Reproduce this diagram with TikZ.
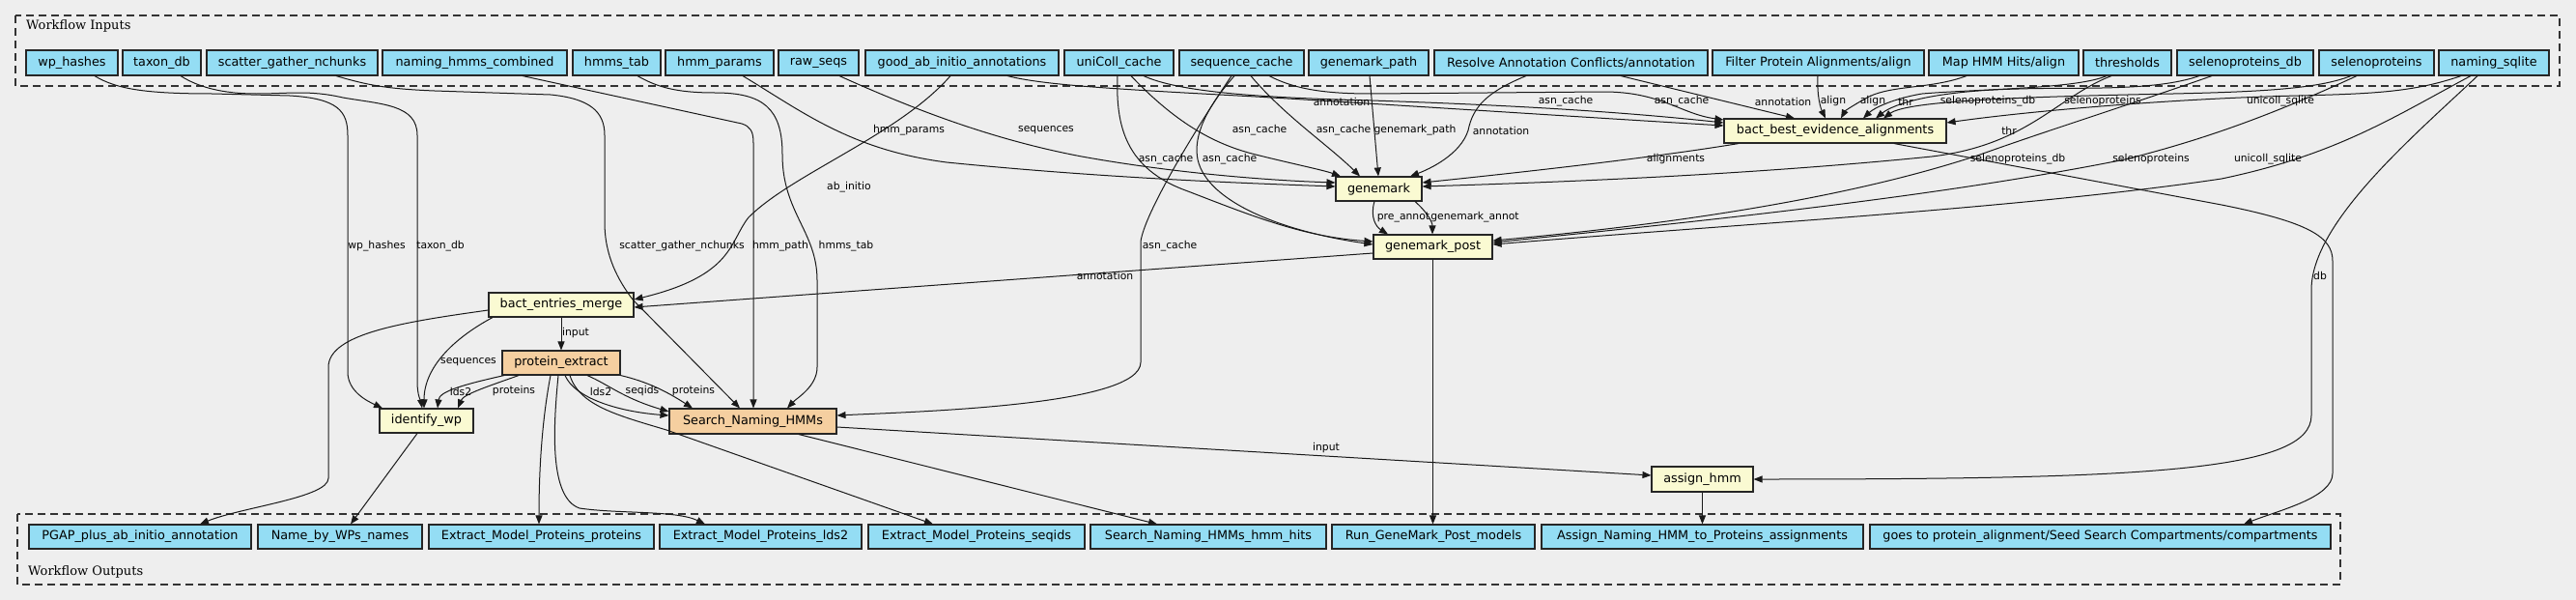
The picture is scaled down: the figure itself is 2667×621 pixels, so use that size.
\documentclass[tikz,border=0pt]{standalone}
\usepackage{fontspec}
\setmainfont{DejaVu Sans}
\newfontfamily\titlefont{DejaVu Serif}
\usetikzlibrary{arrows.meta,shadows}
\definecolor{bgc}{HTML}{EEEEEE}
\definecolor{inblue}{HTML}{94DDF4}
\definecolor{jobyellow}{HTML}{FAFAD2}
\definecolor{joborange}{HTML}{F5CFA0}
\begin{document}
\begin{tikzpicture}[x=1pt,y=-1pt,
  box/.style={draw=black!85, line width=1.1pt, inner sep=0pt, minimum height=25pt,
    font=\fontsize{12.8}{14}\selectfont,
    drop shadow={shadow xshift=0.8pt, shadow yshift=-1.2pt, fill=black!50, opacity=0.35}},
  io/.style={box, fill=inblue, minimum height=26pt},
  job/.style={box, fill=jobyellow},
  sub/.style={box, fill=joborange},
  lbl/.style={font=\fontsize{10.8}{12}\selectfont, inner sep=0pt},
  edg/.style={draw=black!90, line width=1pt, -{Triangle[length=9pt,width=7pt]}},
  cluster/.style={draw=black!80, line width=1.3pt, dash pattern=on 8pt off 5pt},
  ctitle/.style={font=\titlefont\fontsize{13}{15}\selectfont, anchor=west, inner sep=0pt}
]
\useasboundingbox (0,0) rectangle (2667,621);
\fill[bgc] (0,0) rectangle (2667,621);

% clusters
\draw[cluster] (16,16) rectangle (2650,89);
\draw[cluster] (18,532) rectangle (2423,605);
\node[ctitle] (tin) at (27,27) {Workflow Inputs};
\node[ctitle] (tout) at (29,592) {Workflow Outputs};

% inputs
\node[io, minimum width=95pt]  (in_wp)  at (74.5,65)  {wp\_hashes};
\node[io, minimum width=81pt]  (in_tax) at (167.5,65) {taxon\_db};
\node[io, minimum width=177pt] (in_sg)  at (302.5,65) {scatter\_gather\_nchunks};
\node[io, minimum width=191pt] (in_nhc) at (491.5,65) {naming\_hmms\_combined};
\node[io, minimum width=91pt]  (in_ht)  at (638.5,65) {hmms\_tab};
\node[io, minimum width=112pt] (in_hp)  at (745,65)   {hmm\_params};
\node[io, minimum width=83pt]  (in_rs)  at (847.5,65) {raw\_seqs};
\node[io, minimum width=200pt] (in_gab) at (996,65)   {good\_ab\_initio\_annotations};
\node[io, minimum width=113pt] (in_uc)  at (1158.5,65) {uniColl\_cache};
\node[io, minimum width=129pt] (in_sc)  at (1285.5,65) {sequence\_cache};
\node[io, minimum width=124pt] (in_gp)  at (1417,65)  {genemark\_path};
\node[io, minimum width=283pt] (in_rac) at (1626.5,65) {Resolve Annotation Conflicts/annotation};
\node[io, minimum width=219pt] (in_fpa) at (1882.5,65) {Filter Protein Alignments/align};
\node[io, minimum width=155pt] (in_mhh) at (2074.5,65) {Map HMM Hits/align};
\node[io, minimum width=91pt]  (in_thr) at (2202.5,65) {thresholds};
\node[io, minimum width=141pt] (in_sdb) at (2324.5,65) {selenoproteins\_db};
\node[io, minimum width=119pt] (in_sel) at (2460.5,65) {selenoproteins};
\node[io, minimum width=114pt] (in_ns)  at (2582,65)  {naming\_sqlite};

% steps
\node[job, minimum width=230pt] (bbea) at (1900,135.5) {bact\_best\_evidence\_alignments};
\node[job, minimum width=89pt]  (gm)   at (1427.5,195.5) {genemark};
\node[job, minimum width=123pt] (gmp)  at (1483.5,255.5) {genemark\_post};
\node[job, minimum width=150pt] (bem)  at (581,315.5) {bact\_entries\_merge};
\node[sub, minimum width=122pt] (pe)   at (581,375.5) {protein\_extract};
\node[job, minimum width=97pt]  (iwp)  at (441.5,435.5) {identify\_wp};
\node[sub, minimum width=173pt, minimum height=26pt] (snh) at (779.5,436) {Search\_Naming\_HMMs};
\node[job, minimum width=105pt, minimum height=26pt] (ah) at (1762.5,496) {assign\_hmm};

% outputs
\node[io, minimum width=230pt, minimum height=25pt] (out_pgap)  at (145,555.5)  {PGAP\_plus\_ab\_initio\_annotation};
\node[io, minimum width=170pt, minimum height=25pt] (out_name)  at (352,555.5)  {Name\_by\_WPs\_names};
\node[io, minimum width=233pt, minimum height=25pt] (out_emp_p) at (560.5,555.5) {Extract\_Model\_Proteins\_proteins};
\node[io, minimum width=209pt, minimum height=25pt] (out_emp_l) at (787.5,555.5) {Extract\_Model\_Proteins\_lds2};
\node[io, minimum width=224pt, minimum height=25pt] (out_emp_s) at (1011,555.5) {Extract\_Model\_Proteins\_seqids};
\node[io, minimum width=244pt, minimum height=25pt] (out_snh)   at (1251,555.5) {Search\_Naming\_HMMs\_hmm\_hits};
\node[io, minimum width=210pt, minimum height=25pt] (out_rgm)   at (1484,555.5) {Run\_GeneMark\_Post\_models};
\node[io, minimum width=333pt, minimum height=25pt] (out_ass)   at (1762.5,555.5) {Assign\_Naming\_HMM\_to\_Proteins\_assignments};
\node[io, minimum width=477pt, minimum height=25pt] (out_goes)  at (2174.5,555.5) {goes to protein\_alignment/Seed Search Compartments/compartments};

% edges
\draw[edg] (98,0 |- in_wp.south) .. controls (120,92) and (150,97) .. (220,97) -- (300,99) .. controls (350,102) and (360,115) .. (360,140) -- (360,385) .. controls (360,405) and (380,415) .. (396,0 |- iwp.north);
\draw[edg] (187,0 |- in_tax.south) .. controls (205,90) and (230,97) .. (265,97) .. controls (300,97) and (320,93) .. (355,101) .. controls (395,108) and (432,108) .. (432,140) -- (432,395) .. controls (432,410) and (436,416) .. (437,0 |- iwp.north);
\draw[edg] (348,0 |- in_sg.south) .. controls (380,88) and (400,92) .. (450,94) -- (570,98) .. controls (610,102) and (626,115) .. (626,140) -- (626,230) .. controls (626,265) and (640,290) .. (655,310) -- (766,0 |- snh.north);
\draw[edg] (541,0 |- in_nhc.south) -- (768,128) .. controls (777,131) and (780,136) .. (780,148) -- (780,0 |- snh.north);
\draw[edg] (660,0 |- in_ht.south) .. controls (680,90) and (700,96) .. (740,96) .. controls (790,96) and (810,112) .. (810,160) .. controls (810,220) and (846,240) .. (846,290) -- (846,380) .. controls (846,400) and (825,412) .. (815,0 |- snh.north);
\draw[edg] (769,0 |- in_hp.south) .. controls (830,115) and (880,155) .. (980,168) .. controls (1150,185) and (1300,190) .. (gm.west |- 0,193);
\draw[edg] (869,0 |- in_rs.south) .. controls (950,115) and (1030,145) .. (1120,162) .. controls (1220,180) and (1320,187) .. (gm.west |- 0,189);
\draw[edg] (984,0 |- in_gab.south) .. controls (930,140) and (820,180) .. (775,225) .. controls (755,250) and (760,285) .. (bem.east |- 0,310);
\draw[edg] (1043,0 |- in_gab.south) .. controls (1080,88) and (1150,92) .. (1300,100) .. controls (1500,112) and (1650,122) .. (bbea.west |- 0,130);
\draw[edg] (1184,0 |- in_uc.south) .. controls (1220,95) and (1300,101) .. (1420,104) .. controls (1600,110) and (1700,118) .. (bbea.west |- 0,127);
\draw[edg] (1314,0 |- in_sc.south) .. controls (1340,92) and (1370,97) .. (1420,97) -- (1660,95) .. controls (1720,95) and (1740,118) .. (bbea.west |- 0,124);
\draw[edg] (1171,0 |- in_uc.south) .. controls (1220,130) and (1260,150) .. (1300,160) .. controls (1340,170) and (1370,176) .. (1388,0 |- gm.north);
\draw[edg] (1295,0 |- in_sc.south) .. controls (1330,120) and (1375,150) .. (1408,0 |- gm.north);
\draw[edg] (1157,0 |- in_uc.south) .. controls (1155,130) and (1165,175) .. (1230,198) .. controls (1300,225) and (1350,245) .. (gmp.west |- 0,250);
\draw[edg] (1278,0 |- in_sc.south) .. controls (1250,110) and (1235,140) .. (1240,165) .. controls (1250,210) and (1330,240) .. (gmp.west |- 0,253);
\draw[edg] (1275,0 |- in_sc.south) .. controls (1240,130) and (1185,220) .. (1181,250) -- (1181,375) .. controls (1181,420) and (950,426) .. (snh.east |- 0,430);
\draw[edg] (1418,0 |- in_gp.south) -- (1427,0 |- gm.north);
\draw[edg] (1580,0 |- in_rac.south) .. controls (1540,95) and (1525,110) .. (1520,135) .. controls (1512,160) and (1480,175) .. (1460,0 |- gm.north);
\draw[edg] (1678,0 |- in_rac.south) -- (1858,0 |- bbea.north);
\draw[edg] (1882,0 |- in_fpa.south) .. controls (1881,100) and (1885,112) .. (1890,0 |- bbea.north);
\draw[edg] (2036,0 |- in_mhh.south) .. controls (2000,92) and (1960,88) .. (1935,100) .. controls (1920,108) and (1910,115) .. (1906,0 |- bbea.north);
\draw[edg] (2181,0 |- in_thr.south) .. controls (2150,92) and (2050,92) .. (1990,97) .. controls (1960,102) and (1940,112) .. (1929,0 |- bbea.north);
\draw[edg] (2186,0 |- in_thr.south) .. controls (2130,100) and (2100,150) .. (2000,162) .. controls (1800,182) and (1600,189) .. (gm.east |- 0,193);
\draw[edg] (2277,0 |- in_sdb.south) .. controls (2230,95) and (2150,90) .. (2090,92) .. controls (2000,94) and (1960,108) .. (1942,0 |- bbea.north);
\draw[edg] (2290,0 |- in_sdb.south) .. controls (2200,110) and (2120,135) .. (2050,160) .. controls (1900,210) and (1700,235) .. (gmp.east |- 0,249);
\draw[edg] (2434,0 |- in_sel.south) .. controls (2400,92) and (2340,95) .. (2250,97) .. controls (2100,100) and (1975,104) .. (1950,0 |- bbea.north);
\draw[edg] (2440,0 |- in_sel.south) .. controls (2350,120) and (2280,145) .. (2200,165) .. controls (2000,205) and (1750,230) .. (gmp.east |- 0,251);
\draw[edg] (2548,0 |- in_ns.south) .. controls (2500,95) and (2460,97) .. (2380,99) .. controls (2250,102) and (2100,115) .. (bbea.east |- 0,127);
\draw[edg] (2558,0 |- in_ns.south) .. controls (2480,120) and (2420,160) .. (2300,185) .. controls (2100,215) and (1800,232) .. (gmp.east |- 0,253);
\draw[edg] (2565,0 |- in_ns.south) .. controls (2500,140) and (2393,230) .. (2393,300) -- (2393,430) .. controls (2393,488) and (2220,496) .. (ah.east);
\draw[edg] (1800,0 |- bbea.south) .. controls (1700,165) and (1550,181) .. (gm.east |- 0,189);
\draw[edg] (1961,0 |- bbea.south) -- (2300,212) .. controls (2390,230) and (2415,245) .. (2415,270) -- (2415,490) .. controls (2415,515) and (2360,528) .. (2323,0 |- out_goes.north);
\draw[edg] (1423,0 |- gm.south) .. controls (1418,225) and (1425,235) .. (1437,0 |- gmp.north);
\draw[edg] (1465,0 |- gm.south) .. controls (1478,220) and (1483,230) .. (1483,0 |- gmp.north);
\draw[edg] (gmp.west |- 0,262) -- (bem.east |- 0,318);
\draw[edg] (gmp.south) -- (gmp.south |- out_rgm.north);
\draw[edg] (bem.south) -- (pe.north);
\draw[edg] (510,0 |- bem.south) .. controls (470,350) and (439,380) .. (439,0 |- iwp.north);
\draw[edg] (bem.west |- 0,321) .. controls (420,333) and (340,345) .. (340,380) -- (340,495) .. controls (340,515) and (250,525) .. (207,0 |- out_pgap.north);
\draw[edg] (522,0 |- pe.south) .. controls (480,398) and (455,405) .. (453,0 |- iwp.north);
\draw[edg] (537,0 |- pe.south) .. controls (505,400) and (480,408) .. (474,0 |- iwp.north);
\draw[edg] (585,0 |- pe.south) .. controls (595,412) and (640,426) .. (snh.west |- 0,430);
\draw[edg] (608,0 |- pe.south) .. controls (630,398) and (645,412) .. (snh.west |- 0,426);
\draw[edg] (pe.south east) .. controls (670,395) and (690,405) .. (717,0 |- snh.north);
\draw[edg] (570,0 |- pe.south) .. controls (562,430) and (558,480) .. (558,0 |- out_emp_p.north);
\draw[edg] (578,0 |- pe.south) .. controls (573,440) and (568,515) .. (600,526) .. controls (640,532) and (700,528) .. (730,0 |- out_emp_l.north);
\draw[edg] (590,0 |- pe.south) .. controls (600,420) and (640,430) .. (690,445) -- (966,0 |- out_emp_s.north);
\draw[edg] (432,0 |- iwp.south) -- (363,0 |- out_name.north);
\draw[edg] (827,0 |- snh.south) -- (1198,0 |- out_snh.north);
\draw[edg] (snh.east |- 0,442) -- (ah.west |- 0,492);
\draw[edg] (ah.south) -- (ah.south |- out_ass.north);

% edge labels
\node[lbl] (l1)  at (390,255)  {wp\_hashes};
\node[lbl] (l2)  at (456,255)  {taxon\_db};
\node[lbl] (l3)  at (706,255)  {scatter\_gather\_nchunks};
\node[lbl] (l4)  at (808,255)  {hmm\_path};
\node[lbl] (l5)  at (876,255)  {hmms\_tab};
\node[lbl] (l6)  at (941,135)  {hmm\_params};
\node[lbl] (l7)  at (1083,135) {sequences};
\node[lbl] (l8)  at (879,194)  {ab\_initio};
\node[lbl] (l9)  at (1389,105) {annotation};
\node[lbl] (l10) at (1621,105) {asn\_cache};
\node[lbl] (l11) at (1741,105) {asn\_cache};
\node[lbl] (l12) at (1304,135) {asn\_cache};
\node[lbl] (l13) at (1391,135) {asn\_cache};
\node[lbl] (l14) at (1207,165) {asn\_cache};
\node[lbl] (l15) at (1273,165) {asn\_cache};
\node[lbl] (l16) at (1211,255) {asn\_cache};
\node[lbl] (l17) at (1465,135) {genemark\_path};
\node[lbl] (l18) at (1554,135) {annotation};
\node[lbl] (l19) at (1846,105) {annotation};
\node[lbl] (l20) at (1898,105) {align};
\node[lbl] (l21) at (1939,105) {align};
\node[lbl] (l22) at (1973,105) {thr};
\node[lbl] (l23) at (2080,135) {thr};
\node[lbl] (l24) at (2058,105) {selenoproteins\_db};
\node[lbl] (l25) at (2089,165) {selenoproteins\_db};
\node[lbl] (l26) at (2177,105) {selenoproteins};
\node[lbl] (l27) at (2227,165) {selenoproteins};
\node[lbl] (l28) at (2361,105) {unicoll\_sqlite};
\node[lbl] (l29) at (2348,165) {unicoll\_sqlite};
\node[lbl] (l30) at (2402,285) {db};
\node[lbl] (l31) at (1735,165) {alignments};
\node[lbl] (l32) at (1453,225) {pre\_annot};
\node[lbl] (l33) at (1527,225) {genemark\_annot};
\node[lbl] (l34) at (1144,285) {annotation};
\node[lbl] (l35) at (596,345)  {input};
\node[lbl] (l36) at (485,375)  {sequences};
\node[lbl] (l37) at (477,405)  {lds2};
\node[lbl] (l38) at (532,405)  {proteins};
\node[lbl] (l39) at (622,405)  {lds2};
\node[lbl] (l40) at (665,405)  {seqids};
\node[lbl] (l41) at (718,405)  {proteins};
\node[lbl] (l42) at (1373,464) {input};
\end{tikzpicture}
\end{document}
